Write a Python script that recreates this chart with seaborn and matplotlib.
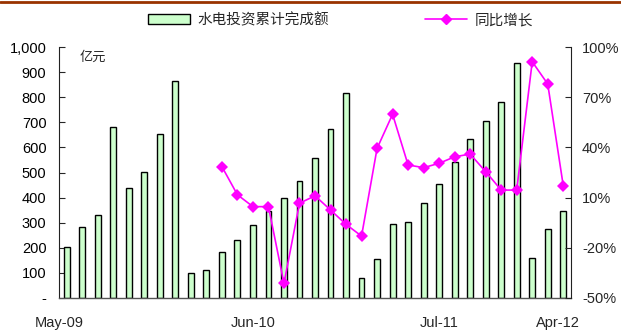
import matplotlib
matplotlib.use("Agg")
import matplotlib.pyplot as plt
import seaborn as sns
import numpy as np
import pandas as pd
from matplotlib.lines import Line2D
from matplotlib.patches import Patch
from matplotlib.transforms import ScaledTranslation

months = ["May-09", "Jun-09", "Jul-09", "Aug-09", "Sep-09", "Oct-09", "Nov-09", "Dec-09",
          "Feb-10", "Mar-10", "Apr-10", "May-10", "Jun-10", "Jul-10", "Aug-10", "Sep-10",
          "Oct-10", "Nov-10", "Dec-10",
          "Feb-11", "Mar-11", "Apr-11", "May-11", "Jun-11", "Jul-11", "Aug-11", "Sep-11",
          "Oct-11", "Nov-11", "Dec-11",
          "Feb-12", "Mar-12", "Apr-12"]
invest = [203, 281, 332, 681, 437, 503, 653, 865,
          98, 110, 182, 231, 292, 348, 398, 465, 559, 674, 815,
          81, 154, 294, 304, 377, 454, 542, 632, 705, 782, 937,
          158, 276, 348]
growth = [None] * 10 + [28.5, 11.7, 4.6, 4.6, -41.3, 6.6, 11.1, 2.6, -6.0, -13.0,
                        39.4, 59.8, 29.5, 27.9, 30.5, 34.4, 36.0, 25.5, 14.5, 14.5,
                        91.2, 77.9, 17.1]
label_months = ["May-09", "Jun-10", "Jul-11", "Apr-12"]
left_ticks = [0, 100, 200, 300, 400, 500, 600, 700, 800, 900, 1000]
left_labels = ["-", "100", "200", "300", "400", "500", "600", "700", "800", "900", "1,000"]
right_ticks = [-50, -20, 10, 40, 70, 100]
right_labels = ["-50%", "-20%", "10%", "40%", "70%", "100%"]
bar_name = "水电投资累计完成额"
line_name = "同比增长"
unit = "亿元"

sns.set_theme(style="white")
plt.rcParams['font.family'] = ['Liberation Sans', 'Noto Sans CJK SC', 'DejaVu Sans']

df = pd.DataFrame({"month": months, "invest": invest,
                   "growth": [np.nan if g is None else g for g in growth]})
df["pos"] = np.arange(len(df))

fig = plt.figure(figsize=(6.21, 3.31), dpi=100)
ax = fig.add_axes([0.095, 0.0997, 0.8245, 0.7583])

sns.barplot(data=df, x="pos", y="invest", ax=ax, color="#CCFFCC", edgecolor="black",
            linewidth=1.0, width=0.38, saturation=1, native_scale=True)
ax.set_xlim(-0.5, len(df) - 0.5)
ax.set_ylim(0, 1000)
ax.set_yticks(left_ticks)
ax.set_yticklabels(left_labels, fontsize=10.5)
ax.set_xlabel("")
ax.set_ylabel("")
# category ticks between bars
ax.set_xticks(np.arange(len(df) + 1) - 0.5, minor=True)
ax.set_xticks([months.index(m) for m in label_months])
ax.set_xticklabels(label_months, fontsize=10.5)
ax.tick_params(axis="x", which="major", length=0, pad=13)
ax.tick_params(axis="x", which="minor", direction="in", length=4, width=0.8, color="#333333")
ax.tick_params(axis="y", direction="in", length=4, width=0.8, left=True, pad=9,
               labelcolor="black")
# first/last labels sit slightly inward as in the reference
xl = ax.get_xticklabels()
xl[0].set_transform(xl[0].get_transform() + ScaledTranslation(-0.08, 0, fig.dpi_scale_trans))
xl[-1].set_transform(xl[-1].get_transform() + ScaledTranslation(-0.05, 0, fig.dpi_scale_trans))
for s in ["top", "right"]:
    ax.spines[s].set_visible(False)
ax.spines["left"].set_color("#222222")
ax.spines["bottom"].set_color("#555555")
ax.spines["left"].set_linewidth(0.8)
ax.spines["bottom"].set_linewidth(1.0)
ax.text(0.04, 0.985, unit, transform=ax.transAxes, fontsize=9.5, va="top", ha="left",
        family=['Noto Sans CJK SC'])

ax2 = ax.twinx()
sns.lineplot(data=df, x="pos", y="growth", ax=ax2, color="#FF00FF", linewidth=1.2,
             marker="D", markersize=6, markeredgewidth=0, markerfacecolor="#FF00FF")
ax2.set_ylim(-50, 100)
ax2.set_yticks(right_ticks)
ax2.set_yticklabels(right_labels, fontsize=10.5)
ax2.set_ylabel("")
ax2.tick_params(axis="y", direction="in", length=4, width=0.8, right=True, pad=8)
for s in ["top", "left", "bottom"]:
    ax2.spines[s].set_visible(False)
ax2.spines["right"].set_color("#222222")
ax2.spines["right"].set_linewidth(0.8)
ax2.set_xlim(-0.5, len(df) - 0.5)

# top decorative rule
fig.add_artist(Line2D([0, 1], [0.994, 0.994], transform=fig.transFigure,
                      color="#993300", linewidth=2))

handles = [Patch(facecolor="#CCFFCC", edgecolor="black", linewidth=1.0),
           Line2D([0], [0], color="#FF00FF", linewidth=1.2, marker="D", markersize=5)]
leg = fig.legend(handles, [bar_name, line_name], loc="center", bbox_to_anchor=(0.548, 0.94),
                 ncol=2, frameon=False, columnspacing=6.6, handlelength=2.9,
                 handletextpad=0.5, prop={"family": ["Noto Sans CJK SC"], "size": 10.5})
for t in leg.get_texts():
    t.set_fontfamily(["Noto Sans CJK SC"])

fig.savefig("out.png", dpi=100)
